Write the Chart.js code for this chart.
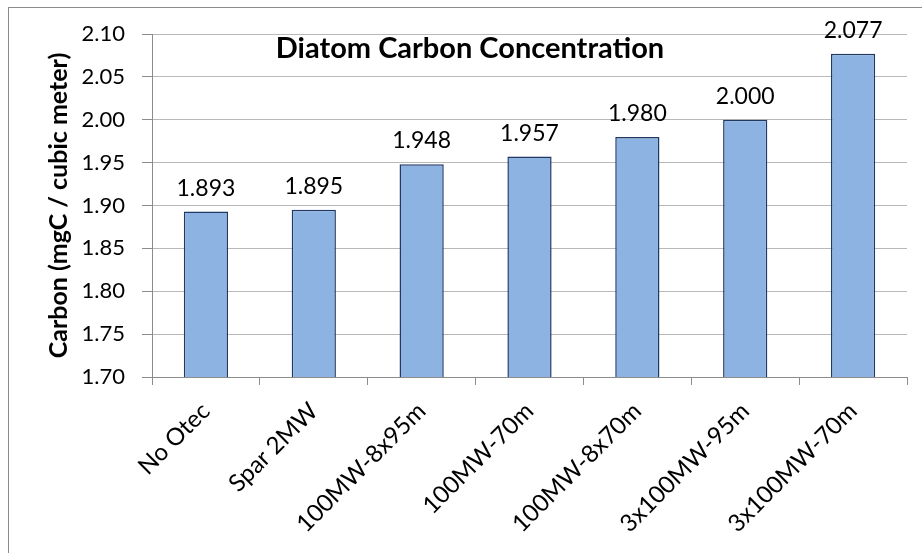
<!DOCTYPE html>
<html>
<head>
<meta charset="utf-8">
<script src="https://cdn.jsdelivr.net/npm/chart.js@4/dist/chart.umd.min.js"></script>
<style>
  html, body { margin: 0; padding: 0; background: #fff; }
  #wrap { position: relative; width: 922px; height: 553px; }
  #frame { position: absolute; left: 8px; top: 7px; right: 0; bottom: 0;
           border-left: 1px solid #8c8c8c; border-top: 1px solid #8c8c8c; }
  canvas { position: absolute; left: 0; top: 0; }
</style>
</head>
<body>
<div id="wrap">
  <div id="frame"></div>
  <canvas id="carbonChart" width="922" height="553"></canvas>
</div>
<script>
// === Data ===
const scenarios = ["No Otec", "Spar 2MW", "100MW-8x95m", "100MW-70m", "100MW-8x70m", "3x100MW-95m", "3x100MW-70m"];
const carbonValues = [1.893, 1.895, 1.948, 1.957, 1.980, 2.000, 2.077];
const yTicks = [1.70, 1.75, 1.80, 1.85, 1.90, 1.95, 2.00, 2.05, 2.10];

const FONT = "Lato, 'Open Sans', sans-serif";

// value labels above each bar
const barValueLabels = {
  id: "barValueLabels",
  afterDatasetsDraw(chart) {
    const { ctx } = chart;
    const meta = chart.getDatasetMeta(0);
    ctx.save();
    ctx.font = "23px " + FONT;
    ctx.fillStyle = "#000";
    ctx.textAlign = "center";
    ctx.textBaseline = "alphabetic";
    meta.data.forEach((bar, i) => {
      ctx.fillText(carbonValues[i].toFixed(3), bar.x, bar.y - 16);
    });
    ctx.restore();
  }
};

// title drawn inside the plot area
const innerTitle = {
  id: "innerTitle",
  afterDraw(chart) {
    const { ctx } = chart;
    ctx.save();
    ctx.font = "bold 29px " + FONT;
    ctx.fillStyle = "#000";
    ctx.textAlign = "center";
    ctx.textBaseline = "alphabetic";
    ctx.fillText("Diatom Carbon Concentration", 470, 58);
    ctx.restore();
  }
};

const ctx = document.getElementById("carbonChart").getContext("2d");
new Chart(ctx, {
  type: "bar",
  data: {
    labels: scenarios,
    datasets: [{
      data: carbonValues,
      backgroundColor: "#8db3e2",
      borderColor: "#1f3864",
      borderWidth: 1.5,
      categoryPercentage: 1,
      barPercentage: 0.41
    }]
  },
  options: {
    responsive: false,
    animation: false,
    layout: { padding: { left: 0, top: 34, right: 15, bottom: 0 } },
    plugins: {
      legend: { display: false },
      tooltip: { enabled: false }
    },
    scales: {
      x: {
        afterFit: scale => { scale.height = 176; },
        grid: {
          offset: true,
          drawOnChartArea: false,
          drawTicks: true,
          tickLength: 8,
          tickColor: "#8c8c8c",
          tickWidth: 1
        },
        border: { display: true, color: "#8c8c8c", width: 1 },
        ticks: {
          color: "#000",
          font: { family: FONT, size: 24 },
          minRotation: 45,
          maxRotation: 45,
          padding: 12,
          autoSkip: false
        }
      },
      y: {
        min: 1.70,
        max: 2.10,
        afterFit: scale => { scale.width = 152; },
        afterBuildTicks: scale => { scale.ticks = yTicks.map(v => ({ value: v })); },
        grid: {
          color: "#b8b8b8",
          lineWidth: 1,
          borderDash: [6, 4],
          drawTicks: true,
          tickLength: 10,
          tickColor: "#8c8c8c",
          tickBorderDash: [],
          tickWidth: 1
        },
        border: { display: true, color: "#8c8c8c", width: 1 },
        ticks: {
          color: "#000",
          font: { family: FONT, size: 22 },
          padding: 17,
          callback: v => Number(v).toFixed(2)
        },
        title: {
          display: true,
          text: "Carbon (mgC / cubic meter)",
          color: "#000",
          font: { family: FONT, size: 25, weight: "bold" },
          padding: { top: 44, bottom: 0 }
        }
      }
    }
  },
  plugins: [barValueLabels, innerTitle]
});
</script>
</body>
</html>
